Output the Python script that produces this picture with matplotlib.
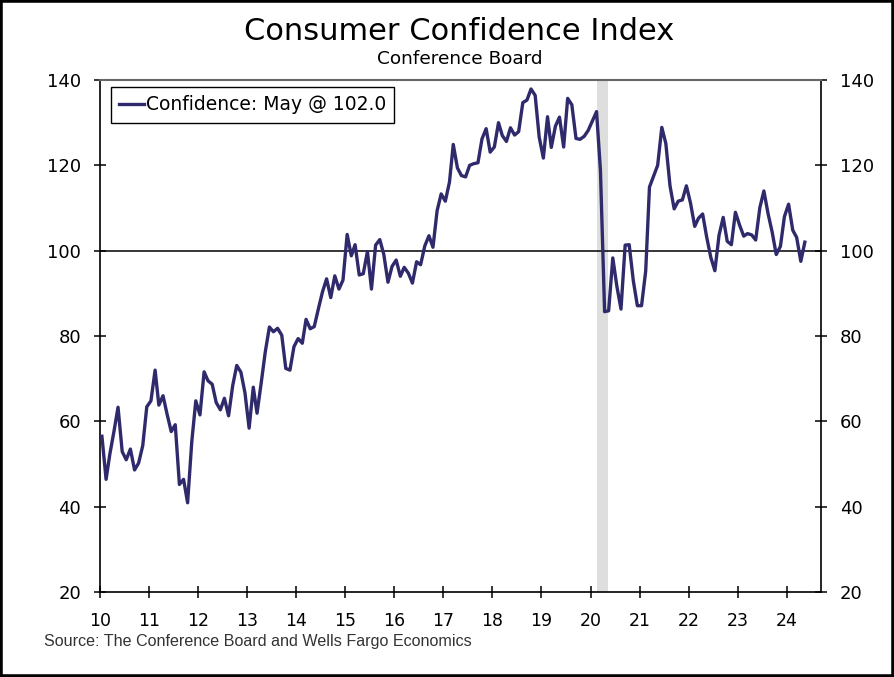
import matplotlib
matplotlib.use("Agg")
import matplotlib.pyplot as plt
import matplotlib.dates as mdates
from matplotlib.patches import Rectangle
import pandas as pd

# Consumer confidence, monthly, Jan 2010 - May 2024 (one row per year)
confidence = [
    56.5, 46.4, 52.3, 57.7, 63.3, 52.9, 51.0, 53.5, 48.6, 50.2, 54.3, 63.4,   # 2010
    64.8, 72.0, 63.8, 66.0, 61.7, 57.6, 59.2, 45.2, 46.4, 40.9, 55.2, 64.8,   # 2011
    61.5, 71.6, 69.5, 68.7, 64.4, 62.7, 65.4, 61.3, 68.4, 73.1, 71.5, 66.7,   # 2012
    58.4, 68.0, 61.9, 69.0, 76.2, 82.1, 81.0, 81.8, 80.2, 72.4, 72.0, 77.5,   # 2013
    79.4, 78.3, 83.9, 81.7, 82.2, 86.4, 90.3, 93.4, 89.0, 94.1, 91.0, 93.1,   # 2014
    103.8, 98.8, 101.4, 94.3, 94.6, 99.8, 91.0, 101.3, 102.6, 99.1, 92.6, 96.3,   # 2015
    97.8, 94.0, 96.1, 94.7, 92.4, 97.4, 96.7, 101.1, 103.5, 100.8, 109.4, 113.3,  # 2016
    111.6, 116.1, 124.9, 119.4, 117.6, 117.3, 120.0, 120.4, 120.6, 126.2, 128.6, 123.1,  # 2017
    124.3, 130.0, 127.0, 125.6, 128.8, 127.1, 127.9, 134.7, 135.3, 137.9, 136.4, 126.6,  # 2018
    121.7, 131.4, 124.2, 129.2, 131.3, 124.3, 135.7, 134.2, 126.3, 126.1, 126.8, 128.2,  # 2019
    130.4, 132.6, 118.8, 85.7, 85.9, 98.3, 91.7, 86.3, 101.3, 101.4, 92.9, 87.1,  # 2020
    87.1, 95.2, 114.9, 117.5, 120.0, 128.9, 125.1, 115.2, 109.8, 111.6, 111.9, 115.2,  # 2021
    111.1, 105.7, 107.6, 108.6, 103.2, 98.4, 95.3, 103.6, 107.8, 102.2, 101.4, 109.0,  # 2022
    106.0, 103.4, 104.0, 103.7, 102.5, 110.1, 114.0, 108.7, 104.3, 99.1, 101.0, 108.0,  # 2023
    110.9, 104.8, 103.1, 97.5, 102.0,  # 2024
]
dates = pd.date_range("2010-01-01", periods=len(confidence), freq="MS") + pd.Timedelta(days=14)
recession = (pd.Timestamp("2020-02-15"), pd.Timestamp("2020-05-12"))
legend_label = "Confidence: May @ 102.0"
y_ticks = [20, 40, 60, 80, 100, 120, 140]

navy = "#2f2a6b"

plt.rcParams["font.family"] = ["DejaVu Sans"]

fig = plt.figure(figsize=(8.94, 6.77), dpi=100)
ax = fig.add_axes([0.1119, 0.1256, 0.8064, 0.7562])

# recession
ax.axvspan(recession[0], recession[1], color="#dedede", lw=0, zorder=0)
ax.axhline(100, color="black", lw=1.1, zorder=1)
ax.plot(dates, confidence, color=navy, lw=2.4, label=legend_label, zorder=3)

ax.set_xlim(pd.Timestamp("2010-01-01"), pd.Timestamp("2024-09-12"))
ax.set_ylim(20, 140)
ax.set_yticks(y_ticks)
ax.xaxis.set_major_locator(mdates.YearLocator())
ax.xaxis.set_major_formatter(mdates.DateFormatter("%y"))

ax.tick_params(axis="y", direction="inout", length=9, width=1.1, labelsize=13,
               pad=9, right=True, labelright=True)
ax.tick_params(axis="x", direction="inout", length=9, width=1.1, labelsize=12.5, pad=10)

for s in ["left", "right", "bottom"]:
    ax.spines[s].set_linewidth(1.2)
    ax.spines[s].set_color("black")
ax.spines["top"].set_color("#666666")
ax.spines["top"].set_linewidth(1.5)

leg = ax.legend(loc="upper left", bbox_to_anchor=(0.015, 0.987), borderaxespad=0,
                fontsize=13.5, handlelength=1.3, handletextpad=0.1, borderpad=0.45,
                fancybox=False, framealpha=1, edgecolor="black")
leg.get_frame().set_linewidth(1.0)

# titel
fig.text(0.514, 0.954, "Consumer Confidence Index", ha="center", va="center", fontsize=22)
fig.text(0.514, 0.913, "Conference Board", ha="center", va="center", fontsize=13.3)

# kalla
fig.text(0.049, 0.052, "Source: The Conference Board and Wells Fargo Economics",
         ha="left", va="center", fontsize=11.6, color="#333333",
         family=["Liberation Sans", "DejaVu Sans"])

# ram runt hela bilden
fig.patches.append(Rectangle((0, 0), 1, 1, transform=fig.transFigure, fill=False,
                             lw=4, edgecolor="black"))

fig.savefig("out.png", dpi=100)
